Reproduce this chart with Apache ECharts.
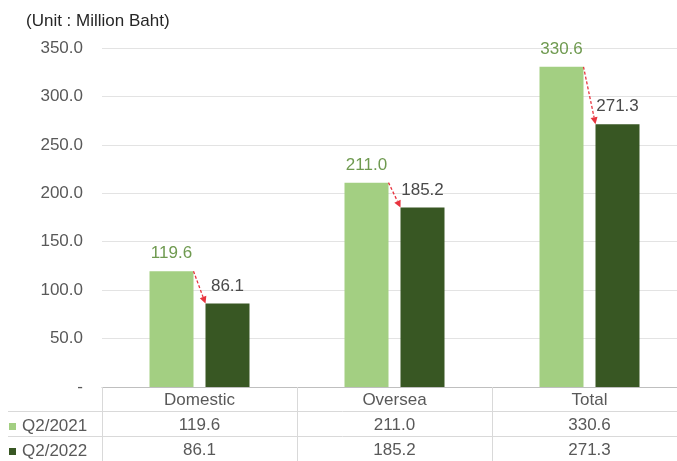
<!DOCTYPE html>
<html>
<head>
<meta charset="utf-8">
<script src="https://cdn.jsdelivr.net/npm/echarts@6/dist/echarts.min.js"></script>
<style>
  html, body { margin: 0; padding: 0; background: #fff; }
  #chart { width: 677px; height: 461px; }
</style>
</head>
<body>
<div id="chart"></div>
<script>
// data
var categories = ['Domestic', 'Oversea', 'Total'];
var seriesNames = ['Q2/2021', 'Q2/2022'];
var q2_2021 = [119.6, 211.0, 330.6];
var q2_2022 = [86.1, 185.2, 271.3];
var yTicks = [0, 50, 100, 150, 200, 250, 300, 350];

var lightGreen = '#a3cf82';
var darkGreen = '#385723';
var textGray = '#595959';
var BAR_W = 44;
var GAP = 12;

var chart = echarts.init(document.getElementById('chart'));

// arrow from top of 2021 bar to top of 2022 bar
function renderArrow(params, api) {
    var idx = api.value(0);
    var p1 = api.coord([idx, api.value(1)]);
    var p2 = api.coord([idx, api.value(2)]);
    var x1 = p1[0] - GAP / 2, y1 = p1[1];
    var x2 = p2[0] + GAP / 2, y2 = p2[1];
    var ang = Math.atan2(y2 - y1, x2 - x1);
    var hl = 7, hw = 3.5;
    var bx = x2 - hl * Math.cos(ang), by = y2 - hl * Math.sin(ang);
    var nx = -Math.sin(ang) * hw, ny = Math.cos(ang) * hw;
    return {
        type: 'group',
        children: [{
            type: 'line',
            shape: { x1: x1, y1: y1, x2: bx, y2: by },
            style: { stroke: '#e8343f', lineWidth: 1.3, lineDash: [3, 2] }
        }, {
            type: 'polygon',
            shape: { points: [[x2, y2], [bx + nx, by + ny], [bx - nx, by - ny]] },
            style: { fill: '#e8343f' }
        }]
    };
}

var arrowData = categories.map(function (c, i) {
    return [i, q2_2021[i], q2_2022[i]];
});

var FS = 17;
var labelFont = { fontFamily: 'Liberation Sans, Arial, sans-serif', fontSize: FS };

function legendRow(name, top) {
    return {
        data: [name],
        left: 4, top: top,
        icon: 'rect',
        itemWidth: 7, itemHeight: 7,
        textStyle: { fontSize: FS, color: textGray, padding: [0, 0, 0, 1] }
    };
}

var option = {
    animation: false,
    textStyle: { fontFamily: 'Liberation Sans, Arial, sans-serif' },
    title: {
        text: '(Unit : Million Baht)',
        left: 21, top: 8,
        textStyle: { fontSize: FS, fontWeight: 'normal', color: '#262626' }
    },
    legend: [legendRow(seriesNames[0], 413), legendRow(seriesNames[1], 438)],
    grid: { left: 102, right: -10, top: 48, bottom: 74, containLabel: false, outerBoundsMode: 'none' },
    xAxis: [{
        type: 'category',
        data: categories,
        axisLine: { lineStyle: { color: '#bfbfbf' } },
        axisTick: { show: true, length: 80, alignWithLabel: false, lineStyle: { color: '#d9d9d9' } },
        axisLabel: Object.assign({ color: textGray, margin: 5 }, labelFont)
    }, {
        type: 'category',
        data: categories,
        position: 'bottom',
        offset: 25,
        axisLine: { show: false },
        axisTick: { show: false },
        axisLabel: Object.assign({
            color: textGray, margin: 5,
            formatter: function (v, i) { return q2_2021[i].toFixed(1); }
        }, labelFont)
    }, {
        type: 'category',
        data: categories,
        position: 'bottom',
        offset: 50,
        axisLine: { show: false },
        axisTick: { show: false },
        axisLabel: Object.assign({
            color: textGray, margin: 5,
            formatter: function (v, i) { return q2_2022[i].toFixed(1); }
        }, labelFont)
    }],
    yAxis: {
        type: 'value',
        min: yTicks[0], max: yTicks[yTicks.length - 1], interval: 50,
        axisLine: { show: false },
        axisTick: { show: false },
        splitLine: { lineStyle: { color: '#e3e3e3' } },
        axisLabel: Object.assign({
            color: textGray, margin: 19,
            formatter: function (v) { return v === 0 ? '-' : v.toFixed(1); }
        }, labelFont)
    },
    graphic: [
        { type: 'line', shape: { x1: 8, y1: 411.5, x2: 677, y2: 411.5 }, style: { stroke: '#d9d9d9', lineWidth: 1 } },
        { type: 'line', shape: { x1: 8, y1: 436.5, x2: 677, y2: 436.5 }, style: { stroke: '#d9d9d9', lineWidth: 1 } }
    ],
    series: [{
        name: seriesNames[0],
        type: 'bar',
        data: q2_2021,
        barWidth: BAR_W,
        barGap: (GAP / BAR_W * 100) + '%',
        itemStyle: { color: lightGreen },
        label: Object.assign({
            show: true, position: 'top', distance: 9, color: '#6f9a50',
            formatter: function (p) { return p.value.toFixed(1); }
        }, labelFont)
    }, {
        name: seriesNames[1],
        type: 'bar',
        data: q2_2022,
        barWidth: BAR_W,
        itemStyle: { color: darkGreen },
        label: Object.assign({
            show: true, position: 'top', distance: 9, color: '#4a4a4a',
            formatter: function (p) { return p.value.toFixed(1); }
        }, labelFont)
    }, {
        type: 'custom',
        renderItem: renderArrow,
        data: arrowData,
        encode: { x: 0, y: [1, 2] },
        silent: true,
        z: 5
    }]
};

chart.setOption(option);
</script>
</body>
</html>
